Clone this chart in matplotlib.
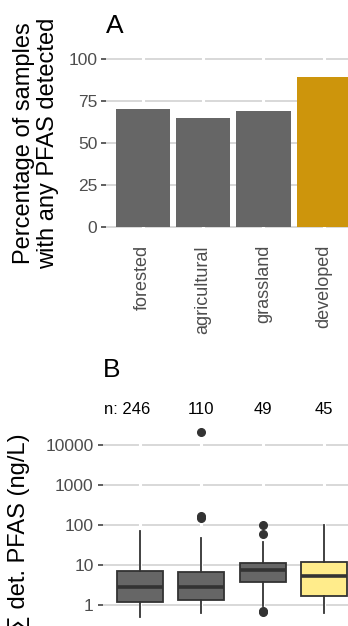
import matplotlib
matplotlib.use("Agg")
from matplotlib import pyplot as plt
from matplotlib.transforms import blended_transform_factory

plt.rcParams['font.family'] = ['Liberation Sans', 'DejaVu Sans']

# Data
land_use = ['forested', 'agricultural', 'grassland', 'developed']
pct_detected = [70, 65, 69, 89]
n_samples = [246, 110, 49, 45]

# box stats for sum of detected PFAS (ng/L)
q1 = [1.17, 1.33, 3.7, 1.7]
median = [2.77, 2.87, 7.5, 5.3]
q3 = [7.1, 6.8, 11.2, 12.1]
whisker_lo = [0.49, 0.62, 0.96, 0.62]
whisker_hi = [71, 46, 38, 100]
outliers = [[], [21000, 150, 170], [100, 58, 0.68, 0.72], []]

bar_colors = ['#666666', '#666666', '#666666', '#CD950C']
box_colors = ['#666666', '#666666', '#666666', '#FFEC8B']

W, H = 348, 626


def rect(left, top, right, bottom):
    return [left / W, 1 - bottom / H, (right - left) / W, (bottom - top) / H]


def style_axis(ax):
    for s in ax.spines.values():
        s.set_visible(False)
    ax.tick_params(axis='y', length=3.6, width=1.1, color='#333333', pad=3,
                   labelsize=12.5, labelcolor='#4D4D4D')
    ax.tick_params(axis='x', length=0, pad=7, labelsize=13, labelcolor='#4D4D4D')
    for t in ax.get_yticks():
        ax.axhline(t, color='#D6D6D6', lw=1.3, zorder=0.5)
    for i in range(len(land_use)):
        ax.axvline(i, color='white', lw=2.2, zorder=0.8)


fig = plt.figure(figsize=(W / 100, H / 100), dpi=100)

# Panel A
ax_a = fig.add_axes(rect(106.5, 50.3, 360, 235.4))
ax_a.bar(range(len(land_use)), pct_detected, width=0.9, color=bar_colors, zorder=2)
ax_a.set_xlim(-0.6, 3.6)
ax_a.set_ylim(-5, 105)
ax_a.set_yticks([0, 25, 50, 75, 100])
ax_a.set_xticks(range(len(land_use)))
ax_a.set_xticklabels(land_use, rotation=90)
style_axis(ax_a)

fig.text(106 / W, 1 - 33 / H, 'A', fontsize=19, va='baseline', ha='left')
fig.text(36 / W, 1 - 143 / H, 'Percentage of samples\nwith any PFAS detected',
         rotation=90, ha='center', va='center', multialignment='center',
         fontsize=17, linespacing=1.12)

# Panel B
ax_b = fig.add_axes(rect(102.9, 422.6, 360.8, 626.6))
stats = []
for i in range(len(land_use)):
    stats.append(dict(med=median[i], q1=q1[i], q3=q3[i],
                      whislo=whisker_lo[i], whishi=whisker_hi[i], fliers=outliers[i]))
bp = ax_b.bxp(stats, positions=range(len(land_use)), widths=0.75, patch_artist=True,
              showcaps=False,
              boxprops=dict(edgecolor='#333333', linewidth=1.3),
              medianprops=dict(color='#333333', linewidth=2.6),
              whiskerprops=dict(color='#333333', linewidth=1.3),
              flierprops=dict(marker='o', markerfacecolor='#333333',
                              markeredgecolor='#333333', markersize=5.5))
for patch, c in zip(bp['boxes'], box_colors):
    patch.set_facecolor(c)
    patch.set_zorder(2)
ax_b.set_yscale('log')
ax_b.set_ylim(10 ** -0.54, 10 ** 4.56)
ax_b.set_xlim(-0.6, 3.6)
ax_b.set_yticks([1, 10, 100, 1000, 10000])
ax_b.set_yticklabels(['1', '10', '100', '1000', '10000'])
ax_b.minorticks_off()
ax_b.set_xticks(range(len(land_use)))
ax_b.set_xticklabels([])
style_axis(ax_b)

trans = blended_transform_factory(ax_b.transData, fig.transFigure)
for i, n in enumerate(n_samples):
    if i == 0:
        ax_b.annotate(f'n: {n}', xy=(i, 1 - 414 / H), xycoords=trans,
                      xytext=(7.4, 0), textcoords='offset points',
                      ha='right', va='baseline', fontsize=12)
    else:
        ax_b.text(i, 1 - 414 / H, str(n), transform=trans,
                  ha='center', va='baseline', fontsize=12)

fig.text(103.3 / W, 1 - 376.7 / H, 'B', fontsize=19, va='baseline', ha='left')
fig.text(19 / W, 1 - 433 / H, '∑ det. PFAS (ng/L)', rotation=90,
         ha='center', va='top', fontsize=17)

fig.savefig('out.png', dpi=100)
